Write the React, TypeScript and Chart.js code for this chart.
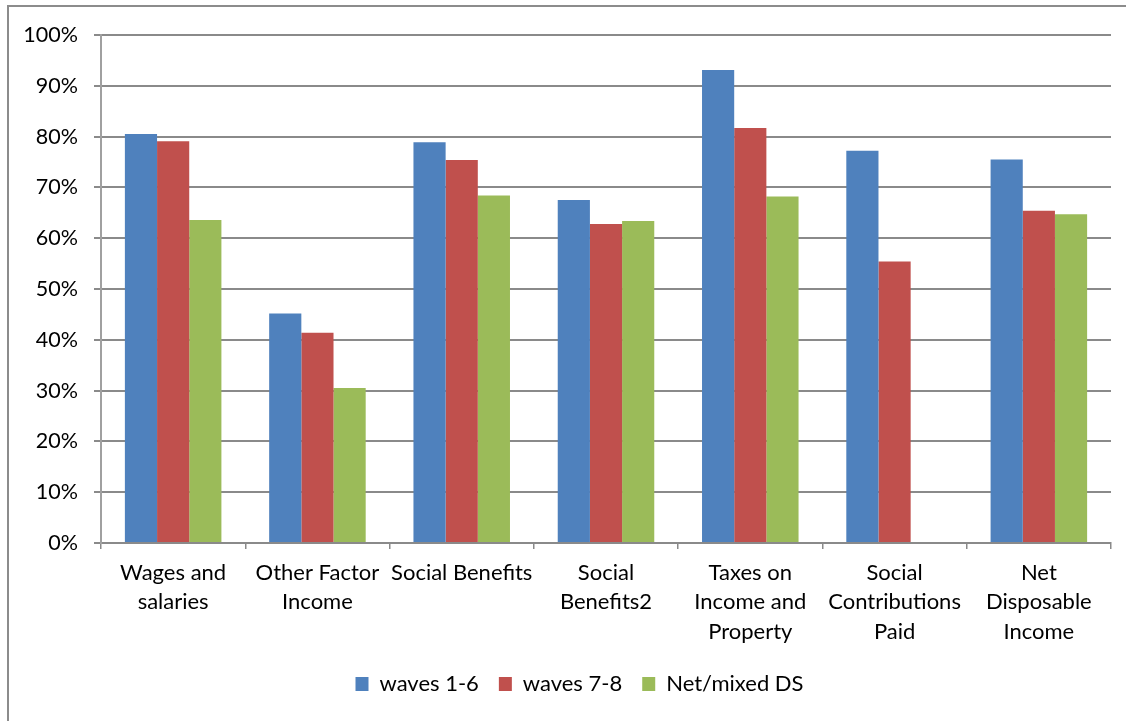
import React, { useEffect, useRef } from "react";
import { Chart, registerables } from "chart.js";

Chart.register(...registerables);

const categories: string[][] = [
  ["Wages and", "salaries"],
  ["Other Factor", "Income"],
  ["Social Benefits"],
  ["Social", "Benefits2"],
  ["Taxes on", "Income and", "Property"],
  ["Social", "Contributions", "Paid"],
  ["Net", "Disposable", "Income"],
];

const waves16: number[] = [80.5, 45.2, 78.9, 67.5, 93.1, 77.2, 75.5];
const waves78: number[] = [79.1, 41.4, 75.4, 62.8, 81.7, 55.4, 65.4];
const netMixed: (number | null)[] = [63.6, 30.5, 68.4, 63.4, 68.2, null, 64.7];

const yTicks: number[] = [0, 10, 20, 30, 40, 50, 60, 70, 80, 90, 100];

const FONT = "Lato, 'Open Sans', sans-serif";

const legendShift = {
  id: "legendShift",
  afterLayout(chart: any) {
    if (chart.legend) {
      chart.legend.left += 24;
      chart.legend.right += 24;
    }
  },
};

export default function App() {
  const ref = useRef<HTMLCanvasElement | null>(null);

  useEffect(() => {
    if (!ref.current) return;
    const chart = new Chart(ref.current, {
      type: "bar",
      data: {
        labels: categories,
        datasets: [
          { label: "waves 1-6", data: waves16, backgroundColor: "#4F81BD" },
          { label: "waves 7-8", data: waves78, backgroundColor: "#C0504D" },
          { label: "Net/mixed DS", data: netMixed, backgroundColor: "#9BBB59" },
        ],
      },
      plugins: [legendShift],
      options: {
        animation: false,
        responsive: false,
        maintainAspectRatio: false,
        datasets: {
          bar: { categoryPercentage: 0.669, barPercentage: 1 },
        },
        layout: { padding: { left: 0, right: 15, top: 35, bottom: 16 } },
        plugins: {
          tooltip: { enabled: false },
          legend: {
            position: "bottom",
            labels: {
              boxWidth: 13,
              boxHeight: 14,
              padding: 20,
              color: "#000",
              font: { family: FONT, size: 22 },
            },
          },
        },
        scales: {
          x: {
            offset: true,
            grid: {
              offset: true,
              drawOnChartArea: false,
              drawTicks: true,
              tickLength: 6,
              color: "#8a8a8a",
              lineWidth: 1.5,
            },
            border: { color: "#8a8a8a", width: 2 },
            ticks: {
              color: "#000",
              maxRotation: 0,
              autoSkip: false,
              padding: 9,
              font: { family: FONT, size: 22, lineHeight: 1.34 },
            },
            afterFit: (scale: any) => {
              scale.height = 110;
            },
          },
          y: {
            min: 0,
            max: 100,
            afterBuildTicks: (scale: any) => {
              scale.ticks = yTicks.map((v) => ({ value: v }));
            },
            grid: {
              color: "#8a8a8a",
              lineWidth: 2,
              tickLength: 7,
            },
            border: { color: "#a0a0a0", width: 2 },
            ticks: {
              color: "#000",
              padding: 16,
              font: { family: FONT, size: 21.5 },
              callback: (v: any) => v + "%",
            },
            afterFit: (scale: any) => {
              scale.width = 101;
            },
          },
        },
      },
    });
    return () => chart.destroy();
  }, []);

  return (
    <div style={{ position: "fixed", left: 0, top: 0, width: 1126, height: 721, background: "#fff", overflow: "hidden" }}>
      <div
        style={{
          position: "absolute",
          left: 7,
          top: 5,
          width: 1200,
          height: 800,
          border: "2px solid #8c8c8c",
          boxSizing: "border-box",
        }}
      />
      <canvas ref={ref} width={1126} height={721} style={{ position: "absolute", left: 0, top: 0, width: 1126, height: 721 }} />
    </div>
  );
}
